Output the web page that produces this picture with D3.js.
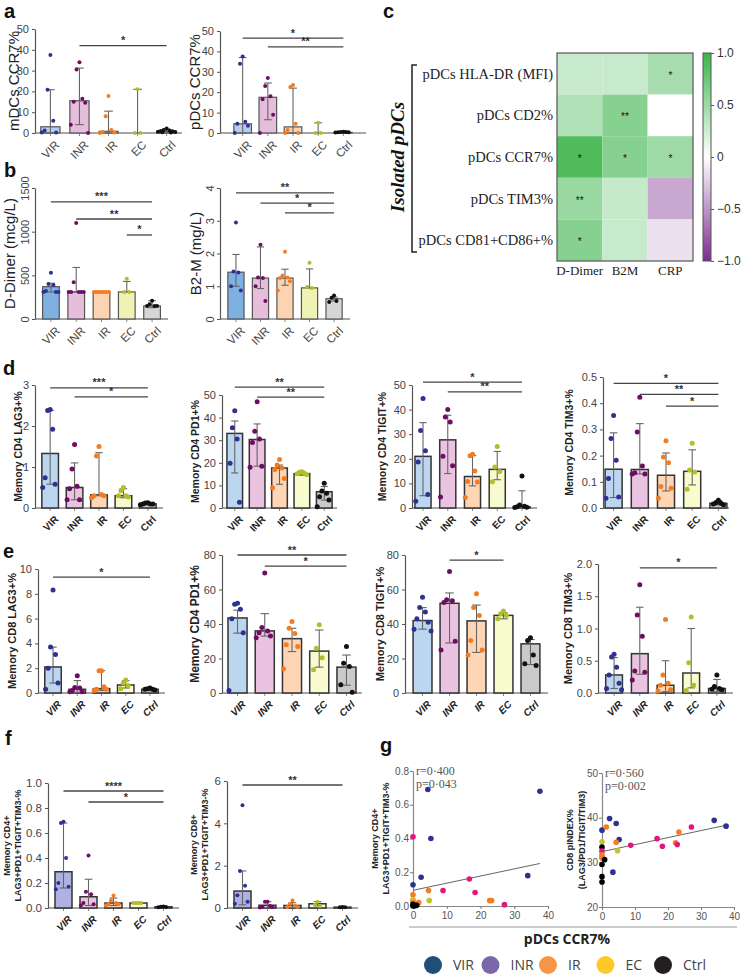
<!DOCTYPE html>
<html><head><meta charset="utf-8">
<script src="https://cdn.jsdelivr.net/npm/d3@7"></script>
<style>body{margin:0;background:#fff}svg{display:block}</style>
</head><body><svg id="c" width="750" height="974"></svg>
<script>
const groups = ["VIR","INR","IR","EC","Ctrl"];

// ---- panel a ----
const aMdcMean = [3, 15.5, 0.8, 0, 0.8];
const aMdcErr = [[0,20.8],[4,31.2],[0,10.5],[0,21],[0.3,1.8]];
const aMdcPts = [[37.5,20.8,5.9,1.2,0.3,0.2],[34,30.5,16.5,15,14.5,4,0],[17.8,8,1.5,0.5,0.2,0],[21,0,0],[2.2,1.5,1.2,1,0.8,0.6,0.5,0.4,0.3]];
const aPdcMean = [4.5, 17.5, 3, 0, 0.3];
const aPdcErr = [[0,37],[6.5,24.5],[0,22],[0,5],[0.1,0.5]];
const aPdcPts = [[37.5,34,5.5,4.5,3.5,0],[27,23,18,16.5,9,0],[23.5,22.5,4.5,1.5,0,0],[5,0,0],[0.6,0.5,0.5,0.4,0.4,0.3]];
// ---- panel b ----
const bDdMean = [370, 310, 310, 310, 150];
const bDdErr = [[310,410],[310,590],[310,310],[310,430],[130,210]];
const bDdPts = [[530,400,390,320,310,310,310],[1100,420,310,310,310,310,310],[310,310,310,310,310,310,310],[460,310,310],[210,170,150,150,150]];
const bB2Mean = [1.43, 1.25, 1.25, 0.95, 0.62];
const bB2Err = [[1.0,1.97],[0.93,2.2],[1.03,1.52],[0.95,1.53],[0.55,0.67]];
const bB2Pts = [[2.95,1.45,1.42,1.0,0.87],[2.27,1.27,1.25,1.0,0.55],[2.05,1.33,1.27,1.25,1.15,0.87],[1.72,0.98,0.95],[0.72,0.65,0.55,0.52]];
// ---- panel d ----
const dLag3Mean = [1.33,0.5,0.32,0.3,0.1];
const dLag3Err = [[0.58,2.38],[0.2,1.1],[0.3,1.35],[0.25,0.47],[0.08,0.13]];
const dLag3Pts = [[2.4,2.38,1.92,0.74,0.58,0.5],[1.55,0.95,0.53,0.47,0.2,0.2],[1.5,1.27,0.33,0.3,0.3,0.25],[0.5,0.42,0.3,0.3,0.27],[0.13,0.12,0.1,0.1,0.1,0.08]];
const dPd1Mean = [33,30.3,17.7,15.2,7.2];
const dPd1Err = [[15.5,38.5],[18.5,37.2],[10.5,19],[14.5,16],[3.5,9.5]];
const dPd1Pts = [[43,35.5,30.5,19.8,2.5],[47,34,30.5,29,18.5,18],[21.5,19,17.7,17,13,9],[16,15.8,15.5,15.2,14.8],[11,7.5,6.5,5,3.5,0.5]];
const dTigitMean = [21,27.7,12.8,15.7,0.5];
const dTigitErr = [[5,34.7],[14,37.7],[9,21.3],[11.5,23],[0,7]];
const dTigitPts = [[44.5,31.5,23.3,18.7,5.5,2.7],[40,37,35,21,17.2,4.5],[21.8,21.2,15,10.8,10.6,4.3],[25,16.7,14.8,10.7],[13,1.2,0.7,0.5,0.3,0.2]];
const dTim3Mean = [0.148,0.147,0.125,0.14,0.018];
const dTim3Err = [[0.04,0.287],[0.13,0.322],[0.065,0.21],[0.088,0.222],[0.012,0.028]];
const dTim3Pts = [[0.353,0.265,0.182,0.113,0.042,0.037],[0.423,0.29,0.16,0.135,0.13,0.13],[0.257,0.195,0.173,0.082,0.075,0.037],[0.247,0.145,0.137,0.072],[0.03,0.02,0.018,0.015,0.012]];
// ---- panel e ----
const eLag3Mean = [2.1,0.3,0.35,0.65,0.3];
const eLag3Err = [[0.8,3.7],[0.05,1.0],[0.2,1.8],[0.4,1.0],[0.2,0.4]];
const eLag3Pts = [[8.3,3.7,3.1,2.0,0.8,0.3],[1.4,0.45,0.4,0.2,0.1,0.1],[1.8,1.8,0.5,0.3,0.3,0.2],[1.05,0.8,0.6,0.35],[0.4,0.35,0.3,0.3,0.25]];
const ePd1Mean = [43.5,36,31.5,24.3,15];
const ePd1Err = [[34.7,48],[33,46],[24,37.5],[15,36.5],[4.5,22]];
const ePd1Pts = [[52,51.5,48.5,43,35,1.5],[69.5,38,36,35,33,32],[41.5,37.5,34.5,28,27,14],[39.5,26,20.5,13.5],[27,17.3,15.4,4.8,0.5]];
const eTigitMean = [42,52,41.8,45,28.5];
const eTigitErr = [[37,49.5],[29,58],[23.5,51],[43,46.5],[16.5,31]];
const eTigitPts = [[55.5,49.5,47,43,41,37,36],[70.5,54,53.5,52.5,30,25],[57.5,49.5,45,30.5,25,22],[47.5,46,45,43],[32,30.5,22,17,16]];
const eTim3Mean = [0.28,0.61,0.12,0.31,0.07];
const eTim3Err = [[0.07,0.55],[0.29,1.33],[0.02,0.5],[0.08,1.0],[0.02,0.21]];
const eTim3Pts = [[0.6,0.56,0.4,0.28,0.15,0.07,0.05],[1.68,1.21,0.88,0.34,0.32,0.2],[1.14,0.28,0.15,0.12,0.05,0.03],[1.18,0.47,0.12,0.04],[0.28,0.1,0.07,0.06,0.05]];
// ---- panel f ----
const fCd4Mean = [0.29,0.09,0.04,0.04,0.01];
const fCd4Err = [[0.16,0.68],[0.02,0.23],[0.02,0.08],[0.035,0.045],[0.005,0.012]];
const fCd4Pts = [[0.69,0.68,0.4,0.2,0.17,0.15],[0.42,0.13,0.11,0.04,0.03,0.02],[0.1,0.06,0.04,0.03,0.03,0.02],[0.04,0.04,0.04,0.04],[0.012,0.01,0.008,0.006]];
const fCd8Mean = [0.8,0.13,0.12,0.2,0.04];
const fCd8Err = [[0.15,1.75],[0.02,0.3],[0.02,0.25],[0.1,0.3],[0.02,0.06]];
const fCd8Pts = [[4.85,1.75,1.05,0.6,0.3,0.2],[0.3,0.3,0.1,0.05,0.05,0.02],[0.35,0.2,0.1,0.05,0.05],[0.3,0.15,0.1],[0.05,0.04,0.03]];
// ---- panel c heatmap ----
const hmRows = ["pDCs HLA-DR (MFI)","pDCs CD2%","pDCs CCR7%","pDCs TIM3%","pDCs CD81+CD86+%"];
const hmCols = ["D-Dimer","B2M","CRP"];
const hmValues = [[0.28,0.28,0.45],[0.4,0.62,0.0],[0.9,0.62,0.5],[0.52,0.3,-0.42],[0.62,0.28,-0.15]];
const hmStars = [["","","*"],["","**",""],["*","*","*"],["**","",""],["*","",""]];
const cbTicks = [1.0,0.5,0,-0.5,-1.0];
// ---- panel g scatter ----
const gCd4Pts = [[4.4,0.69,"VIR"],[37.6,0.68,"VIR"],[0,0.41,"INR"],[5.3,0.40,"VIR"],[2.4,0.17,"VIR"],[34,0.18,"VIR"],[16.7,0.16,"INR"],[0,0.126,"VIR"],[0,0.066,"IR"],[4.6,0.092,"IR"],[8.9,0.092,"INR"],[18.4,0.08,"INR"],[22.7,0.032,"IR"],[23.3,0.032,"IR"],[27.1,0.008,"INR"],[0,0.03,"EC"],[0,0.038,"EC"],[4.8,0.032,"EC"],[1.7,0.02,"IR"],[0,0.02,"IR"],[0,0.01,"Ctrl"],[0.6,0.004,"Ctrl"],[1.1,0.004,"Ctrl"],[0.3,0.0,"Ctrl"],[0,0.0,"Ctrl"]];
const gCd4Fit = [[0,0.093],[37.6,0.252]];
const gCd4Stats = ["r=0·400","p=0·043"];
const gCd8Pts = [[0,37.2,"VIR"],[2.3,39.8,"VIR"],[1.3,37.9,"IR"],[4.3,38.7,"VIR"],[5.2,35.1,"VIR"],[4.3,34.5,"IR"],[0,34.6,"EC"],[0,33.4,"Ctrl"],[0,32.5,"INR"],[4.7,32.6,"EC"],[0,31.7,"IR"],[0,31.3,"IR"],[0,30.9,"IR"],[0.8,30.6,"Ctrl"],[0,29.5,"Ctrl"],[3.3,27.8,"VIR"],[0,26.8,"Ctrl"],[0,25.6,"Ctrl"],[8.7,33.8,"INR"],[16.7,35.3,"INR"],[18.3,33.6,"INR"],[22.3,34.4,"IR"],[22.8,34.0,"INR"],[23.3,36.8,"IR"],[27.1,37.9,"INR"],[34,39.4,"VIR"],[37.6,38.1,"VIR"]];
const gCd8Fit = [[0,32.4],[37.6,38.3]];
const gCd8Stats = ["r=0·560","p=0·002"];
const legendLabels = ["VIR","INR","IR","EC","Ctrl"];

// ================= drawing =================
const svg = d3.select("#c");
const SANS = "'Liberation Sans', Arial, sans-serif";
const SERIF = "'Liberation Serif', 'Times New Roman', serif";
const ptColors = {VIR:"#2e3192", INR:"#6d0e62", IR:"#f47b20", EC:"#b3bf2a", Ctrl:"#111111"};
const scColors = {VIR:"#2e3192", INR:"#e3177b", IR:"#f47b20", EC:"#c3c42a", Ctrl:"#000000"};
const legColors = ["#1f4e79","#7b68a8","#f79646","#ffc828","#231f20"];
const fillsA = ["#b5cdea","#e6bddb","#fbd3b3","#eef2b5","#d5d5d5"];
const fillsB = ["#7eb0e2","#e6bedc","#fdd4b2","#eef3b4","#d6d6d6"];
const fillsD = ["#bcd6f0","#eac3e0","#fed6b6","#f8fbcd","#cacaca"];
const fillsF = ["#aeb1e2","#eac3e0","#fed6b6","#f8fbcd","#cacaca"];
const jit = [0,-1,1,-2,2,-3,3,-1.5,1.5];

function barPanel(p){
  const g = svg.append("g");
  const x = d3.scaleBand().domain(groups).range([p.x0,p.x1]).paddingInner(p.pin).paddingOuter(p.pout);
  const y = d3.scaleLinear().domain([0,p.ymax]).range([p.yBot,p.yTop]);
  const bw = x.bandwidth();
  const cx = d => x(d)+bw/2;
  g.append("line").attr("x1",p.x0).attr("x2",p.xEnd||p.x1).attr("y1",p.yBot).attr("y2",p.yBot)
    .attr("stroke","#888").attr("stroke-width",1.4);
  g.selectAll("line.xt").data(groups).join("line").attr("x1",cx).attr("x2",cx)
    .attr("y1",p.yBot).attr("y2",p.yBot+3).attr("stroke","#888");
  g.selectAll("rect.bar").data(groups).join("rect")
    .attr("x",d=>x(d)).attr("y",(d,i)=>y(p.mean[i])).attr("width",bw)
    .attr("height",(d,i)=>p.yBot-y(p.mean[i])).attr("fill",(d,i)=>p.fills[i])
    .attr("stroke",p.barStroke).attr("stroke-width",p.barSW);
  const capW = bw*0.45;
  groups.forEach((gr,i)=>{
    const [lo,hi] = p.err[i];
    g.append("line").attr("x1",cx(gr)).attr("x2",cx(gr)).attr("y1",y(lo)).attr("y2",y(hi)).attr("stroke","#666").attr("stroke-width",1.1);
    [lo,hi].forEach(v=>g.append("line").attr("x1",cx(gr)-capW/2).attr("x2",cx(gr)+capW/2).attr("y1",y(v)).attr("y2",y(v)).attr("stroke","#666").attr("stroke-width",1.1));
    const pts = p.pts[i];
    const step = Math.min(3.2, bw*0.15);
    g.selectAll(null).data(pts).join("circle")
      .attr("cx",(v,j)=>cx(gr)+jit[j%jit.length]*step).attr("cy",v=>y(v)).attr("r",p.r)
      .attr("fill",ptColors[gr]);
  });
  const ax = d3.axisLeft(y).tickValues(p.ticks).tickSize(3).tickSizeOuter(0).tickFormat(p.fmt||d3.format(""));
  const ya = g.append("g").attr("transform",`translate(${p.x0},0)`).call(ax);
  ya.selectAll("text").attr("font-family",SANS).attr("font-size",p.tickFS||11).attr("fill","#444");
  ya.selectAll(".tick line").attr("stroke","#555");
  ya.select(".domain").attr("stroke","#555").attr("stroke-width",1.2);
  if(p.rotTicks){
    ya.selectAll("text").attr("x",0).attr("dy",0).attr("text-anchor","middle").attr("transform","translate(-6,0) rotate(-90)");
  }
  const yc = (p.yTop+p.yBot)/2;
  p.ylab.forEach((t,k)=>{
    g.append("text").attr("transform",`translate(${p.ylx[k]},${yc}) rotate(-90)`).attr("text-anchor","middle")
      .attr("font-family",SANS).attr("font-size",p.ylFS).attr("font-weight",p.ylW).attr("fill","#222").text(t);
  });
  groups.forEach(gr=>{
    g.append("text").attr("transform",`translate(${cx(gr)+4},${p.yBot+7}) rotate(-45)`).attr("text-anchor","end")
      .attr("dy","0.7em").attr("font-family",SANS).attr("font-size",p.xlFS).attr("font-weight",p.xlW)
      .attr("font-style",p.xlStyle||"normal").attr("fill",p.xlW==="bold"?"#222":"#444").text(gr);
  });
  (p.sig||[]).forEach(([a,b,lab,v])=>{
    const yy = y(v);
    g.append("line").attr("x1",cx(a)).attr("x2",cx(b)).attr("y1",yy).attr("y2",yy).attr("stroke","#444").attr("stroke-width",1.3);
    g.append("text").attr("x",(cx(a)+cx(b))/2).attr("y",yy-1.5).attr("text-anchor","middle")
      .attr("font-family",SANS).attr("font-size",p.sigFS||11).attr("font-weight","bold").attr("fill","#333").text(lab);
  });
}

const f1 = d3.format(".1f");
const base = {pin:0.34,pout:0.2,r:2,barStroke:"#555",barSW:1.2,tickFS:11,ylFS:15,ylW:"normal",xlFS:11.5,xlW:"normal"};
const baseD = {pin:0.32,pout:0.28,r:2.5,barStroke:"#333",barSW:1.5,tickFS:11,ylFS:10.5,ylW:"bold",xlFS:10,xlW:"bold"};

// panel a
barPanel({...base, fills:fillsA, mean:aMdcMean, err:aMdcErr, pts:aMdcPts, x0:35,x1:182,yTop:29,yBot:133,ymax:50,ticks:[0,10,20,30,40,50],ylab:["mDCs CCR7%"],ylx:[19],sig:[["INR","Ctrl","*",42]]});
barPanel({...base, pin:0.3, pout:0.55, fills:fillsA, mean:aPdcMean, err:aPdcErr, pts:aPdcPts, x0:220,x1:366,yTop:31,yBot:133,ymax:50,ticks:[0,10,20,30,40,50],ylab:["pDCs CCR7%"],ylx:[200],sig:[["VIR","Ctrl","*",46.5],["INR","Ctrl","**",42.2]]});
// panel b
barPanel({...base, pout:0.3, fills:fillsB, mean:bDdMean, err:bDdErr, pts:bDdPts, x0:35,x1:168,yTop:188,yBot:319,ymax:1500,ticks:[0,500,1000,1500],rotTicks:true,ylab:["D-Dimer (mcg/L)"],ylx:[15],sig:[["VIR","Ctrl","***",1340],["INR","Ctrl","**",1145],["EC","Ctrl","*",962]]});
barPanel({...base, pout:0.32, fills:fillsB, mean:bB2Mean, err:bB2Err, pts:bB2Pts, x0:220,x1:350,yTop:188,yBot:319,ymax:4,ticks:[0,1,2,3,4],rotTicks:true,ylab:["B2-M (mg/L)"],ylx:[201],sig:[["VIR","Ctrl","**",3.85],["INR","Ctrl","*",3.54],["IR","Ctrl","*",3.24]]});
// panel d
barPanel({...baseD, fills:fillsD, mean:dLag3Mean, err:dLag3Err, pts:dLag3Pts, x0:35,x1:163,yTop:385,yBot:508,ymax:3,ticks:[0,1,2,3],ylab:["Memory CD4 LAG3+%"],ylx:[22],sig:[["VIR","Ctrl","***",2.93],["INR","Ctrl","*",2.71]]});
barPanel({...baseD, pin:0.3, pout:0.22, fills:fillsD, mean:dPd1Mean, err:dPd1Err, pts:dPd1Pts, x0:222,x1:337,yTop:395,yBot:508,ymax:50,ticks:[0,10,20,30,40,50],ylab:["Memory CD4 PD1+%"],ylx:[199],sig:[["VIR","Ctrl","**",53.5],["INR","Ctrl","**",49.1]]});
barPanel({...baseD, pin:0.35, pout:0.12, xEnd:537, fills:fillsD, mean:dTigitMean, err:dTigitErr, pts:dTigitPts, x0:412,x1:533,yTop:385,yBot:508,ymax:50,ticks:[0,10,20,30,40,50],ylab:["Memory CD4 TIGIT+%"],ylx:[386],sig:[["VIR","Ctrl","*",51.2],["INR","Ctrl","**",47.2]]});
barPanel({...baseD, pin:0.35, pout:0.08, fills:fillsD, mean:dTim3Mean, err:dTim3Err, pts:dTim3Pts, x0:603,x1:729,yTop:377,yBot:508,ymax:0.5,ticks:[0,0.1,0.2,0.3,0.4,0.5],fmt:f1,ylab:["Memory CD4 TIM3+%"],ylx:[573],sig:[["VIR","Ctrl","*",0.476],["INR","Ctrl","**",0.434],["IR","Ctrl","*",0.389]]});
// panel e
barPanel({...baseD, xlStyle:"italic", ylFS:11, fills:fillsD, mean:eLag3Mean, err:eLag3Err, pts:eLag3Pts, x0:38,x1:165,yTop:569,yBot:693,ymax:10,ticks:[0,2,4,6,8,10],ylab:["Memory CD8 LAG3+%"],ylx:[16],sig:[["VIR","Ctrl","*",9.35]]});
barPanel({...baseD, xlStyle:"italic", ylFS:12, pin:0.3, pout:0.22, fills:fillsD, mean:ePd1Mean, err:ePd1Err, pts:ePd1Pts, x0:222,x1:362,yTop:555,yBot:693,ymax:80,ticks:[0,20,40,60,80],ylab:["Memory CD4 PD1+%"],ylx:[199],sig:[["VIR","Ctrl","**",80],["INR","Ctrl","*",73.6]]});
barPanel({...baseD, xlStyle:"italic", ylFS:11, pin:0.3, pout:0.3, fills:fillsD, mean:eTigitMean, err:eTigitErr, pts:eTigitPts, x0:405,x1:548,yTop:555,yBot:693,ymax:80,ticks:[0,20,40,60,80],ylab:["Memory CD8 TIGIT+%"],ylx:[384],sig:[["INR","EC","*",77]]});
barPanel({...baseD, xlStyle:"italic", ylFS:11, pin:0.35, pout:0.3, fills:fillsD, mean:eTim3Mean, err:eTim3Err, pts:eTim3Pts, x0:598,x1:733,yTop:564,yBot:693,ymax:2,ticks:[0,0.5,1,1.5,2],fmt:f1,ylab:["Memory CD8 TIM3+%"],ylx:[572],sig:[["INR","Ctrl","*",1.94]]});
// panel f
barPanel({...baseD, xlStyle:"italic", r:2, ylFS:9, fills:fillsF, mean:fCd4Mean, err:fCd4Err, pts:fCd4Pts, x0:48,x1:179,yTop:783,yBot:908,ymax:1,ticks:[0,0.2,0.4,0.6,0.8,1.0],fmt:f1,tickFS:11.5,ylab:["Memory CD4+","LAG3+PD1+TIGIT+TIM3-%"],ylx:[10,21],sig:[["VIR","Ctrl","****",0.936],["INR","Ctrl","*",0.848]]});
barPanel({...baseD, xlStyle:"italic", r:2, ylFS:9, fills:fillsF, mean:fCd8Mean, err:fCd8Err, pts:fCd8Pts, x0:227,x1:358,yTop:781,yBot:908,ymax:6,ticks:[0,2,4,6],tickFS:11.5,ylab:["Memory CD8+","LAG3+PD1+TIGIT+TIM3-%"],ylx:[197,208],sig:[["VIR","Ctrl","**",5.81]]});

// ---- panel c heatmap ----
(function(){
  const g = svg.append("g");
  const hx = d3.scaleBand().domain(hmCols).range([557,693]);
  const hy = d3.scaleBand().domain(hmRows).range([53,261]);
  const col = d3.scaleLinear().domain([-1,0,1]).range(["#7b2d8e","#ffffff","#3cb44a"]);
  hmRows.forEach((r,i)=>hmCols.forEach((c,j)=>{
    g.append("rect").attr("x",hx(c)).attr("y",hy(r)).attr("width",hx.bandwidth()).attr("height",hy.bandwidth()).attr("fill",col(hmValues[i][j]));
    if(hmStars[i][j]) g.append("text").attr("x",hx(c)+hx.bandwidth()/2).attr("y",hy(r)+hy.bandwidth()/2+5)
      .attr("text-anchor","middle").attr("font-family",SANS).attr("font-size",10).attr("fill","#111").text(hmStars[i][j]);
  }));
  g.append("rect").attr("x",557).attr("y",53).attr("width",136).attr("height",208).attr("fill","none").attr("stroke","#555").attr("stroke-width",1.2);
  hmRows.forEach(r=>g.append("text").attr("x",553).attr("y",hy(r)+hy.bandwidth()/2+5).attr("text-anchor","end")
    .attr("font-family",SERIF).attr("font-size",14.5).attr("fill","#222").text(r));
  hmCols.forEach(c=>g.append("text").attr("x",hx(c)+hx.bandwidth()/2).attr("y",275).attr("text-anchor","middle")
    .attr("font-family",SERIF).attr("font-size",13).attr("fill","#222").text(c));
  g.append("path").attr("d","M417,65 H412 V252 H417").attr("fill","none").attr("stroke","#222").attr("stroke-width",1.5);
  g.append("text").attr("transform","translate(404,157) rotate(-90)").attr("text-anchor","middle")
    .attr("font-family",SERIF).attr("font-size",19).attr("font-weight","bold").attr("font-style","italic").attr("fill","#111").text("Isolated pDCs");
  const defs = svg.append("defs");
  const lg = defs.append("linearGradient").attr("id","cb").attr("x1",0).attr("x2",0).attr("y1",0).attr("y2",1);
  [1,0.5,0,-0.5,-1].forEach((v,k)=>lg.append("stop").attr("offset",k/4).attr("stop-color",col(v)));
  const cy = d3.scaleLinear().domain([1,-1]).range([53,261]);
  g.append("rect").attr("x",703).attr("y",53).attr("width",8).attr("height",208).attr("fill","url(#cb)").attr("stroke","#555").attr("stroke-width",1);
  const cax = d3.axisRight(cy).tickValues(cbTicks).tickSize(3).tickSizeOuter(0).tickFormat(d=>d===0?"0":d3.format(".1f")(d));
  const cg = g.append("g").attr("transform","translate(711,0)").call(cax);
  cg.select(".domain").remove();
  cg.selectAll("text").attr("font-family",SANS).attr("font-size",12).attr("fill","#333");
  cg.selectAll("line").attr("stroke","#555");
})();

// ---- panel g scatter ----
function scatter(p){
  const g = svg.append("g");
  const x = d3.scaleLinear().domain([0,40]).range([p.x0,p.x1]);
  const y = d3.scaleLinear().domain(p.ydom).range([p.yBot,p.yTop]);
  const xa = g.append("g").attr("transform",`translate(0,${p.yBot})`).call(d3.axisBottom(x).tickValues([0,10,20,30,40]).tickSize(3).tickSizeOuter(0));
  const ya = g.append("g").attr("transform",`translate(${p.x0},0)`).call(d3.axisLeft(y).tickValues(p.yticks).tickSize(3).tickSizeOuter(0).tickFormat(p.fmt||d3.format("")));
  [xa,ya].forEach(a=>{a.selectAll("text").attr("font-family",SANS).attr("font-size",10).attr("fill","#555");
    a.selectAll("line").attr("stroke","#777"); a.select(".domain").attr("stroke","#888").attr("stroke-width",1.2);});
  ya.selectAll("text").attr("x",-4);
  g.append("line").attr("x1",x(p.fit[0][0])).attr("y1",y(p.fit[0][1])).attr("x2",x(p.fit[1][0])).attr("y2",y(p.fit[1][1])).attr("stroke","#666").attr("stroke-width",1);
  g.selectAll("circle").data(p.pts).join("circle").attr("cx",d=>x(d[0])).attr("cy",d=>y(d[1])).attr("r",2.8).attr("fill",d=>scColors[d[2]]);
  p.stats.forEach((t,k)=>g.append("text").attr("x",p.x0+3).attr("y",p.yTop+4+k*13).attr("font-family",SERIF).attr("font-size",12).attr("fill","#555").text(t));
  const yc=(p.yTop+p.yBot)/2;
  p.ylab.forEach((t,k)=>g.append("text").attr("transform",`translate(${p.ylx[k]},${yc}) rotate(-90)`).attr("text-anchor","middle")
    .attr("font-family",SANS).attr("font-size",9).attr("font-weight","bold").attr("fill","#222").text(t));
}
scatter({x0:413,x1:548,yTop:771,yBot:906,ydom:[0,0.8],yticks:[0,0.2,0.4,0.6,0.8],fmt:f1,pts:gCd4Pts,fit:gCd4Fit,stats:gCd4Stats,ylab:["Memory CD4+","LAG3+PD1+TIGIT+TIM3-%"],ylx:[378,389]});
scatter({x0:602,x1:734,yTop:773,yBot:907,ydom:[20,50],yticks:[20,30,40,50],pts:gCd8Pts,fit:gCd8Fit,stats:gCd8Stats,ylab:["CD8 pINDEX%","(LAG3/PD1/TIGIT/TIM3)"],ylx:[573,585]});
svg.append("line").attr("x1",409).attr("x2",737).attr("y1",927).attr("y2",927).attr("stroke","#999").attr("stroke-width",1);
svg.append("text").attr("x",567).attr("y",944).attr("text-anchor","middle").attr("font-family","'Open Sans', sans-serif").attr("font-size",14).attr("font-weight","bold").attr("fill","#222").text("pDCs CCR7%");
const lx = d3.scalePoint().domain(legendLabels).range([433,663]);
legendLabels.forEach((l,i)=>{
  svg.append("circle").attr("cx",lx(l)).attr("cy",965).attr("r",9).attr("fill",legColors[i]);
  svg.append("text").attr("x",lx(l)+20).attr("y",970).attr("font-family","'Open Sans', sans-serif").attr("font-size",14).attr("fill","#444").text(l);
});

[["a",4,18],["b",4,177],["c",383,18],["d",3,375],["e",3,558],["f",5,745],["g",380,752]].forEach(([t,x,y])=>
  svg.append("text").attr("x",x).attr("y",y).attr("font-family",SANS).attr("font-size",20).attr("font-weight","bold").attr("fill","#111").text(t));
</script></body></html>
